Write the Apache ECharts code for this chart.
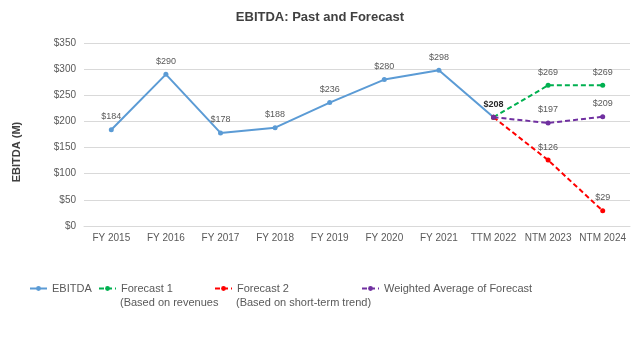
<!DOCTYPE html>
<html>
<head>
<meta charset="utf-8">
<script src="https://cdn.jsdelivr.net/npm/echarts@6/dist/echarts.min.js"></script>
<style>
  html, body { margin: 0; padding: 0; background: #fff; }
  #chart { width: 640px; height: 351px; }
</style>
</head>
<body>
<div id="chart"></div>
<script>
// categories and values
var categories = ['FY 2015', 'FY 2016', 'FY 2017', 'FY 2018', 'FY 2019', 'FY 2020', 'FY 2021', 'TTM 2022', 'NTM 2023', 'NTM 2024'];
var ebitda = [184, 290, 178, 188, 236, 280, 298, 208, '-', '-'];
var forecast1 = ['-', '-', '-', '-', '-', '-', '-', 208, 269, 269];
var forecast2 = ['-', '-', '-', '-', '-', '-', '-', 208, 126, 29];
var weighted = ['-', '-', '-', '-', '-', '-', '-', 208, 197, 209];

var chart = echarts.init(document.getElementById('chart'));

var labelGray = '#595959';
var font = 'Arial, "Liberation Sans", sans-serif';

function lineSeries(name, data, color, dashed) {
  return {
    name: name,
    type: 'line',
    data: data,
    symbol: 'circle',
    symbolSize: 5,
    connectNulls: false,
    itemStyle: { color: color },
    lineStyle: { color: color, width: 2, type: dashed ? [5, 3] : 'solid' },
    label: {
      show: true,
      position: 'top',
      distance: 6,
      fontSize: 9,
      fontFamily: font,
      color: labelGray,
      formatter: function (p) {
        // shared TTM 2022 point: labels stack up, drawn once in dark bold
        if (p.dataIndex === 7) return dashed ? '' : '{dark|$' + p.value + '}';
        return '$' + p.value;
      },
      rich: {
        dark: { fontSize: 9, fontFamily: font, color: '#262626', fontWeight: 'bold' }
      }
    },
    emphasis: { disabled: true },
    z: dashed ? 3 : 2
  };
}

function legendAt(name, left) {
  return {
    data: [name],
    left: left,
    top: 283,
    padding: 0,
    itemWidth: 17,
    itemHeight: 6,
    textStyle: { fontSize: 11, fontFamily: font, color: labelGray },
    selectedMode: false
  };
}

var option = {
  backgroundColor: '#fff',
  animation: false,
  title: {
    text: 'EBITDA: Past and Forecast',
    left: 'center',
    top: 6,
    textStyle: { fontSize: 13, fontWeight: 'bold', fontFamily: font, color: '#404040' }
  },
  legend: [
    legendAt('EBITDA', 29),
    legendAt('Forecast 1', 98),
    legendAt('Forecast 2', 214),
    legendAt('Weighted Average of Forecast', 361)
  ],
  graphic: [
    { type: 'text', left: 120, top: 297, style: { text: '(Based on revenues', fontSize: 11, fontFamily: font, fill: labelGray } },
    { type: 'text', left: 236, top: 297, style: { text: '(Based on short-term trend)', fontSize: 11, fontFamily: font, fill: labelGray } },
    {
      type: 'text', x: 17, y: 152, rotation: Math.PI / 2,
      style: { text: 'EBITDA (M)', fontSize: 11, fontWeight: 'bold', fontFamily: font, fill: '#404040', align: 'center', verticalAlign: 'middle' }
    }
  ],
  grid: { left: 84, right: 10, top: 43, bottom: 125 },
  xAxis: {
    type: 'category',
    data: categories,
    boundaryGap: true,
    axisLine: { lineStyle: { color: '#d9d9d9' } },
    axisTick: { show: false },
    axisLabel: { interval: 0, fontSize: 10, fontFamily: font, color: labelGray, margin: 7 }
  },
  yAxis: {
    type: 'value',
    min: 0,
    max: 350,
    interval: 50,
    axisLine: { show: false },
    axisTick: { show: false },
    axisLabel: { fontSize: 10, fontFamily: font, color: labelGray, margin: 8, formatter: '${value}' },
    splitLine: { lineStyle: { color: '#d9d9d9' } }
  },
  series: [
    lineSeries('EBITDA', ebitda, '#5B9BD5', false),
    lineSeries('Forecast 1', forecast1, '#00B050', true),
    lineSeries('Forecast 2', forecast2, '#FF0000', true),
    lineSeries('Weighted Average of Forecast', weighted, '#7030A0', true)
  ]
};

chart.setOption(option);
window.addEventListener('resize', function () {
  chart.resize();
});
</script>
</body>
</html>
